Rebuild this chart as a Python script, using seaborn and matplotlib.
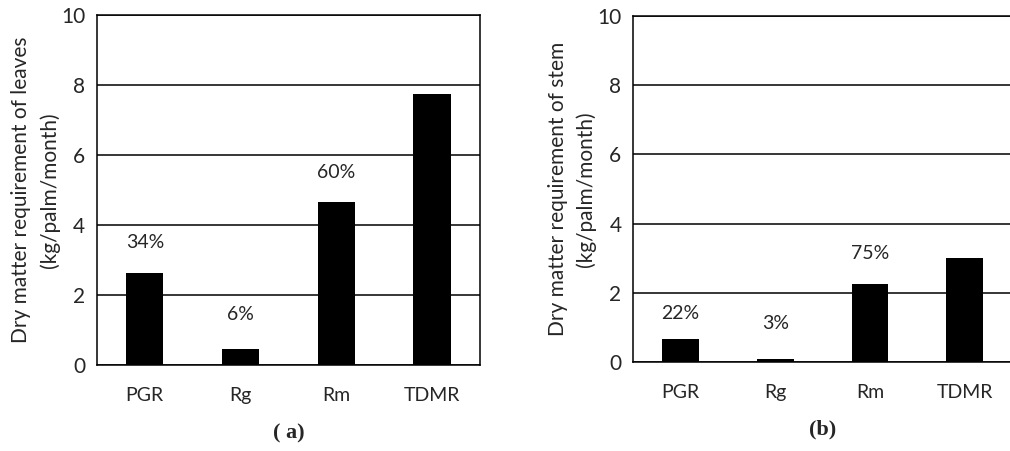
import pandas as pd
import matplotlib.pyplot as plt
import seaborn as sns

# ── Data ────────────────────────────────────────────────────
categories = ["PGR", "Rg", "Rm", "TDMR"]
leaves_values = [2.63, 0.46, 4.66, 7.74]
stem_values = [0.66, 0.08, 2.25, 3.0]
leaves_pct = ["34%", "6%", "60%", None]
stem_pct = ["22%", "3%", "75%", None]
leaves_pct_y = [3.49, 1.43, 5.5, None]
stem_pct_y = [1.41, 1.12, 3.15, None]

sns.set_style("white")
plt.rcParams["font.family"] = ["Lato", "DejaVu Sans"]

fig = plt.figure(figsize=(10.1, 4.51), dpi=100)
ax1 = fig.add_axes([0.096, 0.191, 0.379, 0.776])
ax2 = fig.add_axes([0.627, 0.197, 0.375, 0.768])


def draw_panel(ax, values, pct, pct_y, ylabel, tag):
    df = pd.DataFrame({"cat": categories, "val": values})
    sns.barplot(data=df, x="cat", y="val", color="black", width=0.39,
                saturation=1, linewidth=0, ax=ax, zorder=3)
    ax.set_ylim(0, 10)
    ax.set_xlim(-0.5, 3.5)
    ax.set_yticks([0, 2, 4, 6, 8, 10])
    ax.yaxis.grid(True, color="black", linewidth=1.1, zorder=0)
    ax.set_axisbelow(True)
    for s in ax.spines.values():
        s.set_color("black")
        s.set_linewidth(1.1)
    ax.spines["top"].set_visible(True)
    ax.spines["right"].set_visible(True)
    # tick marks between categories
    ax.set_xticks([0, 1, 2, 3])
    ax.set_xticklabels(categories, fontsize=14)
    ax.tick_params(axis="x", length=0, pad=16)
    ax.set_xticks([-0.5, 0.5, 1.5, 2.5, 3.5], minor=True)
    ax.tick_params(axis="x", which="minor", length=6, width=1.1,
                   direction="out", color="black")
    ax.tick_params(axis="y", length=5, width=1.1, direction="out",
                   labelsize=15, color="black")
    ax.set_xlabel("")
    ax.set_ylabel(ylabel, fontsize=15, linespacing=1.45, labelpad=1)
    for i, (t, y) in enumerate(zip(pct, pct_y)):
        if t:
            ax.text(i, y, t, ha="center", va="center", fontsize=14)
    ax.text(0.5, -0.195, tag, transform=ax.transAxes, ha="center", va="center",
            fontsize=16, fontweight="bold", family="Liberation Serif")


draw_panel(ax1, leaves_values, leaves_pct, leaves_pct_y,
           "Dry matter requirement of leaves\n(kg/palm/month)", "( a)")
draw_panel(ax2, stem_values, stem_pct, stem_pct_y,
           "Dry matter requirement of stem\n(kg/palm/month)", "(b)")

plt.savefig("out.png", dpi=100)
